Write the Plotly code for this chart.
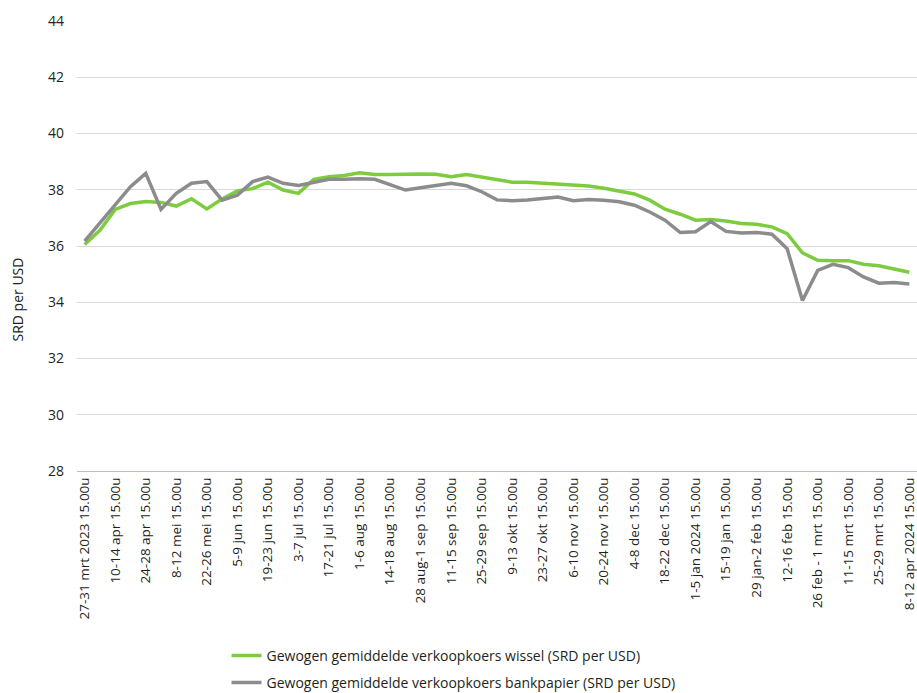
import plotly.graph_objects as go

weeks = [
    "27-31 mrt 2023 15.00u", "3-7 apr 15.00u", "10-14 apr 15.00u", "17-21 apr 15.00u",
    "24-28 apr 15.00u", "1-5 mei 15.00u", "8-12 mei 15.00u", "15-19 mei 15.00u",
    "22-26 mei 15.00u", "29 mei-2 jun 15.00u", "5-9 jun 15.00u", "12-16 jun 15.00u",
    "19-23 jun 15.00u", "26-30 jun 15.00u", "3-7 jul 15.00u", "10-14 jul 15.00u",
    "17-21 jul 15.00u", "24-28 jul 15.00u", "1-6 aug 15.00u", "7-11 aug 15.00u",
    "14-18 aug 15.00u", "21-25 aug 15.00u", "28 aug-1 sep 15.00u", "4-8 sep 15.00u",
    "11-15 sep 15.00u", "18-22 sep 15.00u", "25-29 sep 15.00u", "2-6 okt 15.00u",
    "9-13 okt 15.00u", "16-20 okt 15.00u", "23-27 okt 15.00u", "30 okt-3 nov 15.00u",
    "6-10 nov 15.00u", "13-17 nov 15.00u", "20-24 nov 15.00u", "27 nov-1 dec 15.00u",
    "4-8 dec 15.00u", "11-15 dec 15.00u", "18-22 dec 15.00u", "25-29 dec 15.00u",
    "1-5 jan 2024 15.00u", "8-12 jan 15.00u", "15-19 jan 15.00u", "22-26 jan 15.00u",
    "29 jan-2 feb 15.00u", "5-9 feb 15.00u", "12-16 feb 15.00u", "19-23 feb 15.00u",
    "26 feb - 1 mrt 15.00u", "4-8 mrt 15.00u", "11-15 mrt 15.00u", "18-22 mrt 15.00u",
    "25-29 mrt 15.00u", "2-5 apr 15.00u", "8-12 apr 2024 15.00u",
]

wissel = [
    36.05, 36.56, 37.30, 37.51, 37.58, 37.55, 37.42, 37.68, 37.32, 37.67,
    37.96, 38.04, 38.27, 37.99, 37.87, 38.37, 38.46, 38.51, 38.60, 38.54,
    38.54, 38.56, 38.56, 38.55, 38.46, 38.54, 38.46, 38.38, 38.27, 38.27,
    38.24, 38.20, 38.17, 38.13, 38.05, 37.95, 37.85, 37.63, 37.31, 37.13,
    36.92, 36.94, 36.89, 36.80, 36.77, 36.68, 36.44, 35.76, 35.49, 35.48,
    35.48, 35.35, 35.30, 35.18, 35.07,
]

bankpapier = [
    36.17, 36.83, 37.49, 38.11, 38.58, 37.30, 37.87, 38.23, 38.29, 37.63,
    37.81, 38.29, 38.45, 38.23, 38.15, 38.26, 38.37, 38.37, 38.39, 38.37,
    38.19, 37.99, 38.07, 38.15, 38.23, 38.14, 37.93, 37.64, 37.61, 37.64,
    37.68, 37.74, 37.61, 37.65, 37.63, 37.57, 37.45, 37.21, 36.92, 36.48,
    36.51, 36.87, 36.52, 36.46, 36.48, 36.42, 35.90, 34.06, 35.13, 35.35,
    35.23, 34.90, 34.68, 34.70, 34.65,
]

tick_labels = weeks[::2]
y_ticks = list(range(28, 45, 2))

FONT = "Open Sans"
TXT = "#231f20"

fig = go.Figure()
fig.add_trace(go.Scatter(
    x=weeks, y=wissel, mode="lines",
    name="Gewogen gemiddelde verkoopkoers wissel (SRD per USD)",
    line=dict(color="#7dcc3f", width=3.5), legend="legend",
))
fig.add_trace(go.Scatter(
    x=weeks, y=bankpapier, mode="lines",
    name="Gewogen gemiddelde verkoopkoers bankpapier (SRD per USD)",
    line=dict(color="#8c8c8c", width=3.5), legend="legend2",
))

fig.update_layout(
    width=917, height=693,
    margin=dict(l=77, r=0, t=21, b=222, autoexpand=False),
    paper_bgcolor="white", plot_bgcolor="white",
    font=dict(family=FONT, color=TXT, size=13),
    showlegend=True,
    legend=dict(x=0.178, y=-0.411, xanchor="left", yanchor="middle",
                font=dict(size=14, color=TXT), bgcolor="rgba(0,0,0,0)"),
    legend2=dict(x=0.178, y=-0.471, xanchor="left", yanchor="middle",
                 font=dict(size=14, color=TXT), bgcolor="rgba(0,0,0,0)"),
    xaxis=dict(
        type="category", categoryorder="array", categoryarray=weeks,
        range=[-0.5, len(weeks) - 0.5],
        tickmode="array", tickvals=tick_labels, ticktext=tick_labels,
        tickangle=-90, tickfont=dict(size=13.5, color=TXT),
        ticklabeloverflow="allow", automargin=False,
        showgrid=False, showline=True, linecolor="#bfbfbf", linewidth=1,
        ticks="", zeroline=False,
    ),
    yaxis=dict(
        range=[28, 44], tickmode="array", tickvals=y_ticks,
        tickfont=dict(size=14, color=TXT), automargin=False,
        showgrid=True, gridcolor="#d9d9d9", gridwidth=1,
        zeroline=False, showline=False, ticks="", ticklabelstandoff=12,
    ),
    annotations=[dict(
        text="SRD per USD", textangle=-90, xref="paper", yref="paper",
        x=-0.072, y=(471 - 300) / 450, xanchor="center", yanchor="middle",
        showarrow=False, font=dict(size=14, color=TXT),
    )],
)

fig.write_html(
    "out.html",
    config={"displayModeBar": False},
    post_script="document.body.style.margin='0';document.body.style.overflow='hidden';",
)
